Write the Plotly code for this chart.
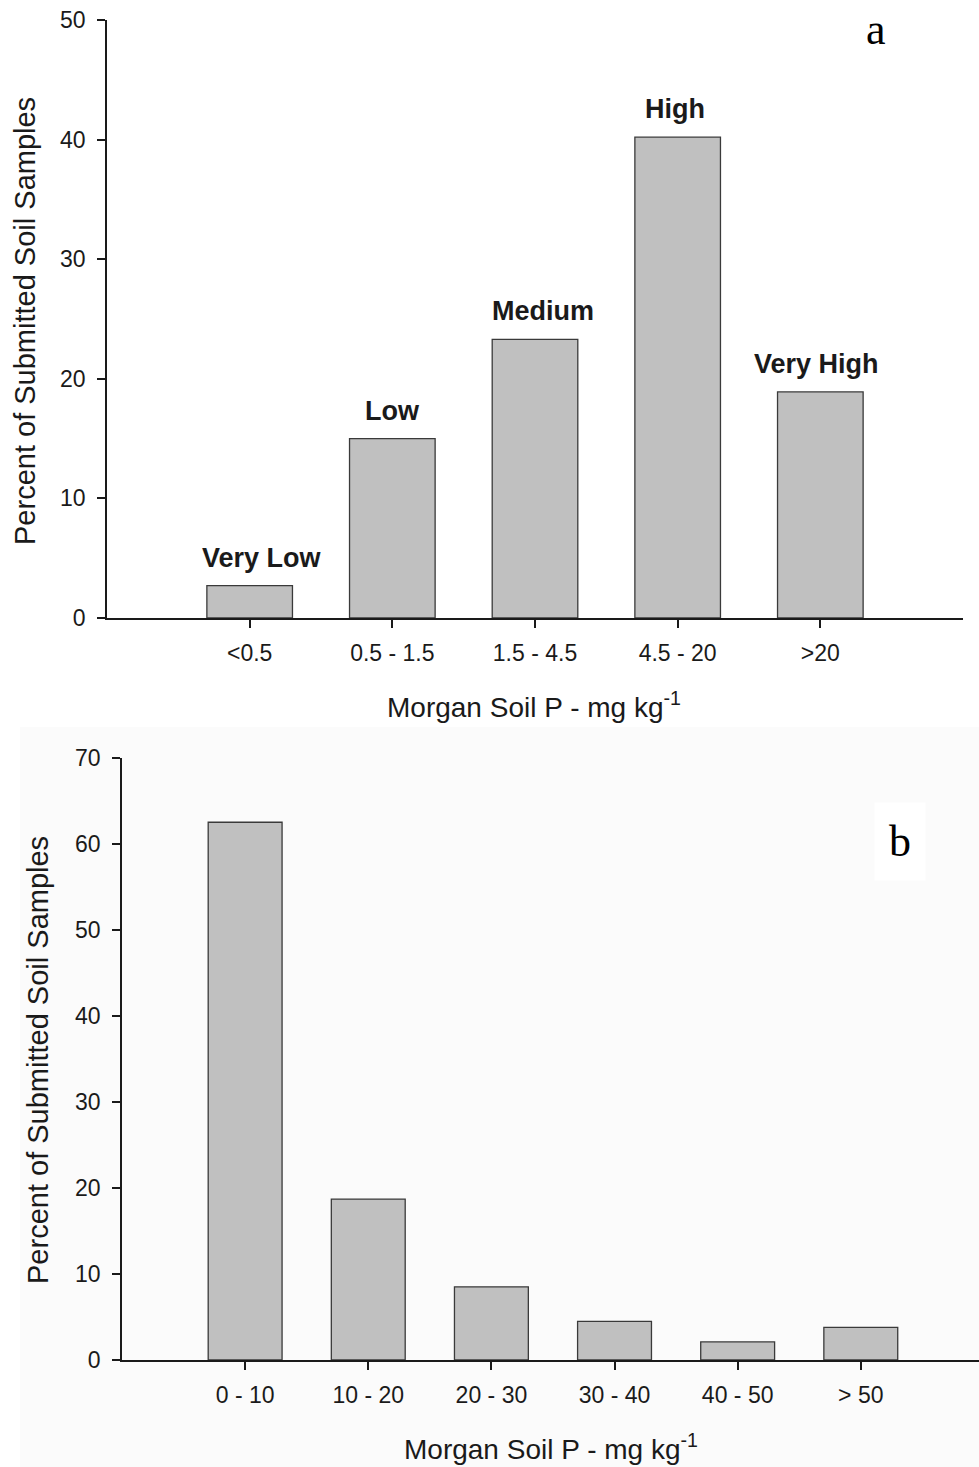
import plotly.graph_objects as go

# Panel a
cats_a = ["<0.5", "0.5 - 1.5", "1.5 - 4.5", "4.5 - 20", ">20"]
vals_a = [2.7, 15.0, 23.3, 40.2, 18.9]
labels_a = ["Very Low", "Low", "Medium", "High", "Very High"]

# Panel b
cats_b = ["0 - 10", "10 - 20", "20 - 30", "30 - 40", "40 - 50", "> 50"]
vals_b = [62.5, 18.7, 8.5, 4.5, 2.1, 3.8]

FONT = "Arial, Liberation Sans, sans-serif"
W, H = 979, 1467

def px_x(p):
    return p / W

def px_y(p):
    return (H - p) / H

fig = go.Figure()

bar_style = dict(marker=dict(color="#c0c0c0", line=dict(color="#3a3a3a", width=1.3)),
                 width=0.6, showlegend=False, hoverinfo="skip")

fig.add_trace(go.Bar(x=list(range(len(cats_a))), y=vals_a, xaxis="x", yaxis="y", **bar_style))
fig.add_trace(go.Bar(x=list(range(len(cats_b))), y=vals_b, xaxis="x2", yaxis="y2", **bar_style))

axis_common = dict(showline=True, linecolor="#1a1a1a", linewidth=1.6, ticks="outside",
                   tickcolor="#1a1a1a", tickwidth=1.6, ticklen=8, showgrid=False,
                   zeroline=False, automargin=False,
                   tickfont=dict(family=FONT, size=23, color="#1a1a1a"))

fig.update_layout(
    width=W, height=H,
    margin=dict(l=0, r=0, t=0, b=0, autoexpand=False),
    paper_bgcolor="white", plot_bgcolor="rgba(0,0,0,0)",
    font=dict(family=FONT, color="#1a1a1a"),
    xaxis=dict(domain=[px_x(107), px_x(963)], range=[-1, 5], anchor="y",
               tickmode="array", tickvals=list(range(len(cats_a))), ticktext=cats_a,
               ticklabelstandoff=6, **axis_common),
    yaxis=dict(domain=[px_y(618), px_y(20)], range=[0, 50], anchor="x",
               tickmode="array", tickvals=[0, 10, 20, 30, 40, 50],
               ticklabelstandoff=7, **axis_common),
    xaxis2=dict(domain=[px_x(122), 1.0], range=[-1, 5.96], anchor="y2",
                tickmode="array", tickvals=list(range(len(cats_b))), ticktext=cats_b,
                ticklabelstandoff=6, **axis_common),
    yaxis2=dict(domain=[px_y(1360), px_y(757.7)], range=[0, 70], anchor="x2",
                tickmode="array", tickvals=[0, 10, 20, 30, 40, 50, 60, 70],
                ticklabelstandoff=7, **axis_common),
)

# faint background of the lower panel
fig.add_shape(type="rect", xref="paper", yref="paper", x0=px_x(20), x1=1.0,
              y0=0, y1=px_y(727), fillcolor="#fbfbfb", line=dict(width=0), layer="below")

# category labels above bars in panel a
label_xshift = [12, 0, 8, -3, -4]
for i, (v, lab) in enumerate(zip(vals_a, labels_a)):
    fig.add_annotation(x=i, y=v, xref="x", yref="y", text="<b>%s</b>" % lab,
                       showarrow=False, yanchor="bottom", yshift=11, xshift=label_xshift[i],
                       font=dict(family=FONT, size=27, color="#1a1a1a"))

# axis titles
for xc, yc in [(25, 321), (38, 1060)]:
    fig.add_annotation(x=px_x(xc), y=px_y(yc), xref="paper", yref="paper",
                       text="Percent of Submitted Soil Samples", textangle=-90,
                       showarrow=False, xanchor="center", yanchor="middle",
                       font=dict(family=FONT, size=29, color="#1a1a1a"))
for xc, yc in [(534, 705), (551, 1447)]:
    fig.add_annotation(x=px_x(xc), y=px_y(yc), xref="paper", yref="paper",
                       text="Morgan Soil P - mg kg<sup>-1</sup>",
                       showarrow=False, xanchor="center", yanchor="middle",
                       font=dict(family=FONT, size=28, color="#1a1a1a"))

# panel letters
fig.add_annotation(x=px_x(876), y=px_y(30), xref="paper", yref="paper", text="a",
                   showarrow=False, xanchor="center", yanchor="middle",
                   font=dict(family="Liberation Serif, Times New Roman, serif", size=44, color="black"))
fig.add_annotation(x=px_x(900), y=px_y(842), xref="paper", yref="paper", text="b",
                   showarrow=False, xanchor="center", yanchor="middle", bgcolor="white",
                   borderpad=14,
                   font=dict(family="Liberation Serif, Times New Roman, serif", size=44, color="black"))

fig.write_html("out.html", config={"displayModeBar": False},
               post_script="document.body.style.margin='0px';document.body.style.overflow='hidden';")
